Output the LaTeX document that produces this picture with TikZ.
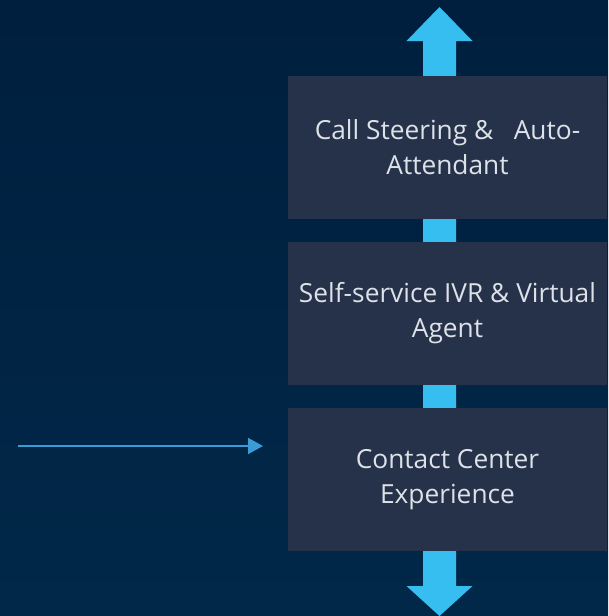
\documentclass[tikz,border=0pt]{standalone}
\usepackage{fontspec}
\setmainfont{Open Sans}
\usetikzlibrary{arrows.meta,calc}
\definecolor{bgtop}{HTML}{001F3E}
\definecolor{bgbot}{HTML}{012849}
\definecolor{boxc}{HTML}{26324A}
\definecolor{arrowc}{HTML}{37BEF0}
\definecolor{linec}{HTML}{3A9BD6}
\definecolor{txtc}{HTML}{DDE1E8}
\begin{document}
\begin{tikzpicture}[x=1pt,y=-1pt,
  stage/.style={fill=boxc, minimum width=319pt, minimum height=143pt, inner sep=0pt,
    text=txtc, align=center, font=\fontsize{26.3}{35}\selectfont},
  fat/.style={fill=arrowc},
  thin/.style={draw=linec, line width=2pt, -{Triangle[length=15pt,width=16pt]}}]
\shade[top color=bgtop, bottom color=bgbot] (0,0) rectangle (608,616);
\useasboundingbox (0,0) rectangle (608,616);
% big vertical arrow behind boxes
\fill[fat] (423,41) -- (406.5,41) -- (439.5,7) -- (472.5,41) -- (456,41)
  -- (456,586) -- (472.5,586) -- (439.5,616) -- (406.5,586) -- (423,586) -- cycle;
\node[stage] (cs) at (447.5,147.5) {Call Steering \& \ \ Auto-\\Attendant};
\node[stage] (ivr) at (447.5,313.5) {Self-service IVR \& Virtual\\Agent};
\node[stage] (cc) at (447.5,479.5) {Contact Center\\Experience};
\coordinate (src) at (18,446);
\coordinate (dst) at (263,446);
\draw[thin] (src) -- (dst);
\end{tikzpicture}
\end{document}
